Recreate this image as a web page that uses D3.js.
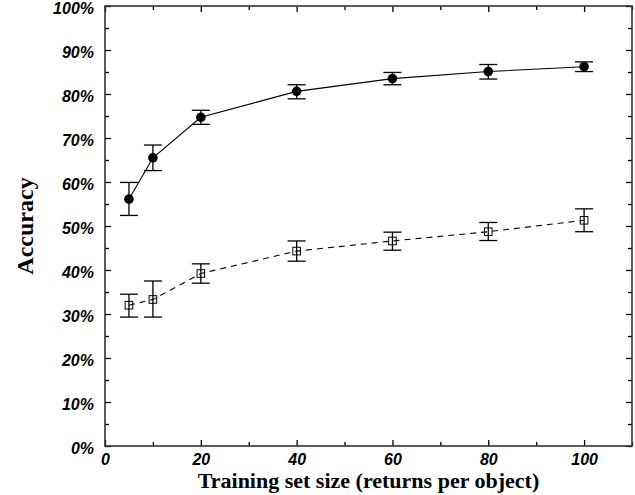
<!DOCTYPE html>
<html>
<head>
<meta charset="utf-8">
<style>
  body { margin: 0; background: #fff; }
  .tick text { font: italic bold 16px "Liberation Sans", Arial, sans-serif; fill: #000; }
  .title { font: bold 22px "Liberation Serif", "Times New Roman", serif; fill: #000; }
</style>
</head>
<body>
<svg id="chart" width="635" height="495"></svg>
<script src="https://cdn.jsdelivr.net/npm/d3@7/dist/d3.min.js"></script>
<script>
// training set size (returns per object)
var sizes = [5, 10, 20, 40, 60, 80, 100];

// upper series: filled circles, solid line
var accA = [56.1, 65.5, 74.7, 80.6, 83.5, 85.1, 86.2];
var lowA = [52.4, 62.6, 73.1, 78.9, 82.1, 83.4, 85.1];
var highA = [59.9, 68.4, 76.3, 82.1, 84.9, 86.7, 87.3];

// lower series: open squares, dashed line
var accB = [32.0, 33.3, 39.2, 44.3, 46.6, 48.7, 51.3];
var lowB = [29.3, 29.3, 37.0, 42.0, 44.5, 46.7, 48.7];
var highB = [34.5, 37.5, 41.4, 46.6, 48.6, 50.8, 53.9];

var xTicks = [0, 20, 40, 60, 80, 100];
var yTicks = [0, 10, 20, 30, 40, 50, 60, 70, 80, 90, 100];

var svg = d3.select("#chart");
var pL = 105, pR = 632, pT = 6, pB = 446;

var x = d3.scaleLinear().domain([0, 110]).range([pL, pR]);
var y = d3.scaleLinear().domain([0, 100]).range([pB, pT]);

// axes with inward ticks
svg.append("g").attr("transform", "translate(0," + pB + ")")
  .call(d3.axisBottom(x).tickValues(xTicks).tickSize(-6).tickPadding(8)
  .tickFormat(d3.format("d")));
var gy = svg.append("g").attr("transform", "translate(" + pL + ",0)")
  .call(d3.axisLeft(y).tickValues(yTicks).tickSize(-6).tickPadding(11)
  .tickFormat(function(d) { return d + "%"; }));
gy.selectAll(".tick text").attr("dy", "0.45em");

// minor ticks
svg.append("g").attr("transform", "translate(0," + pB + ")")
  .call(d3.axisBottom(x).tickValues(d3.range(10, 111, 20)).tickSize(-4).tickFormat(""));
svg.append("g").attr("transform", "translate(" + pL + ",0)")
  .call(d3.axisLeft(y).tickValues(d3.range(5, 100, 10)).tickSize(-4).tickFormat(""));

// top and right ticks
svg.append("g").attr("transform", "translate(0," + pT + ")")
  .call(d3.axisTop(x).tickValues(xTicks).tickSize(-6).tickFormat(""));
svg.append("g").attr("transform", "translate(0," + pT + ")")
  .call(d3.axisTop(x).tickValues(d3.range(10, 111, 20)).tickSize(-4).tickFormat(""));
svg.append("g").attr("transform", "translate(" + pR + ",0)")
  .call(d3.axisRight(y).tickValues(yTicks).tickSize(-6).tickFormat(""));
svg.append("g").attr("transform", "translate(" + pR + ",0)")
  .call(d3.axisRight(y).tickValues(d3.range(5, 100, 10)).tickSize(-4).tickFormat(""));

svg.selectAll(".domain").remove();
svg.selectAll(".tick line").attr("stroke", "#000").attr("stroke-width", 1.3);

// frame
svg.append("rect")
  .attr("x", pL).attr("y", pT)
  .attr("width", pR - pL).attr("height", pB - pT)
  .attr("fill", "none").attr("stroke", "#333").attr("stroke-width", 1.6);

// axis titles
svg.append("text").attr("class", "title")
  .attr("x", (pL + pR) / 2).attr("y", 488)
  .attr("text-anchor", "middle")
  .text("Training set size (returns per object)");
svg.append("text").attr("class", "title")
  .style("font-size", "24px")
  .attr("transform", "translate(33," + (pT + pB) / 2 + ") rotate(-90)")
  .attr("text-anchor", "middle")
  .text("Accuracy");

function drawSeries(acc, low, high, dashed, marker) {
  var pts = sizes.map(function(s, i) { return {s: s, v: acc[i], lo: low[i], hi: high[i]}; });
  var line = d3.line().x(function(d) { return x(d.s); }).y(function(d) { return y(d.v); });

  svg.append("path").datum(pts)
    .attr("d", line)
    .attr("fill", "none")
    .attr("stroke", "#000")
    .attr("stroke-width", 1.1)
    .attr("stroke-dasharray", dashed ? "6,5" : null);

  var eb = svg.append("g").attr("stroke", "#000").attr("stroke-width", 1.3);
  eb.selectAll(".v").data(pts).enter().append("line")
    .attr("x1", function(d) { return x(d.s); }).attr("x2", function(d) { return x(d.s); })
    .attr("y1", function(d) { return y(d.lo); }).attr("y2", function(d) { return y(d.hi); });
  eb.selectAll(".t").data(pts).enter().append("line")
    .attr("x1", function(d) { return x(d.s) - 9; }).attr("x2", function(d) { return x(d.s) + 9; })
    .attr("y1", function(d) { return y(d.hi); }).attr("y2", function(d) { return y(d.hi); });
  eb.selectAll(".b").data(pts).enter().append("line")
    .attr("x1", function(d) { return x(d.s) - 9; }).attr("x2", function(d) { return x(d.s) + 9; })
    .attr("y1", function(d) { return y(d.lo); }).attr("y2", function(d) { return y(d.lo); });

  if (marker === "circle") {
    svg.append("g").selectAll("circle").data(pts).enter().append("circle")
      .attr("cx", function(d) { return x(d.s); })
      .attr("cy", function(d) { return y(d.v); })
      .attr("r", 4.8).attr("fill", "#000");
  } else {
    svg.append("g").selectAll("rect").data(pts).enter().append("rect")
      .attr("x", function(d) { return x(d.s) - 3.8; })
      .attr("y", function(d) { return y(d.v) - 3.8; })
      .attr("width", 7.6).attr("height", 7.6)
      .attr("fill", "none").attr("stroke", "#000").attr("stroke-width", 1);
  }
}

drawSeries(accA, lowA, highA, false, "circle");
drawSeries(accB, lowB, highB, true, "square");
</script>
</body>
</html>
